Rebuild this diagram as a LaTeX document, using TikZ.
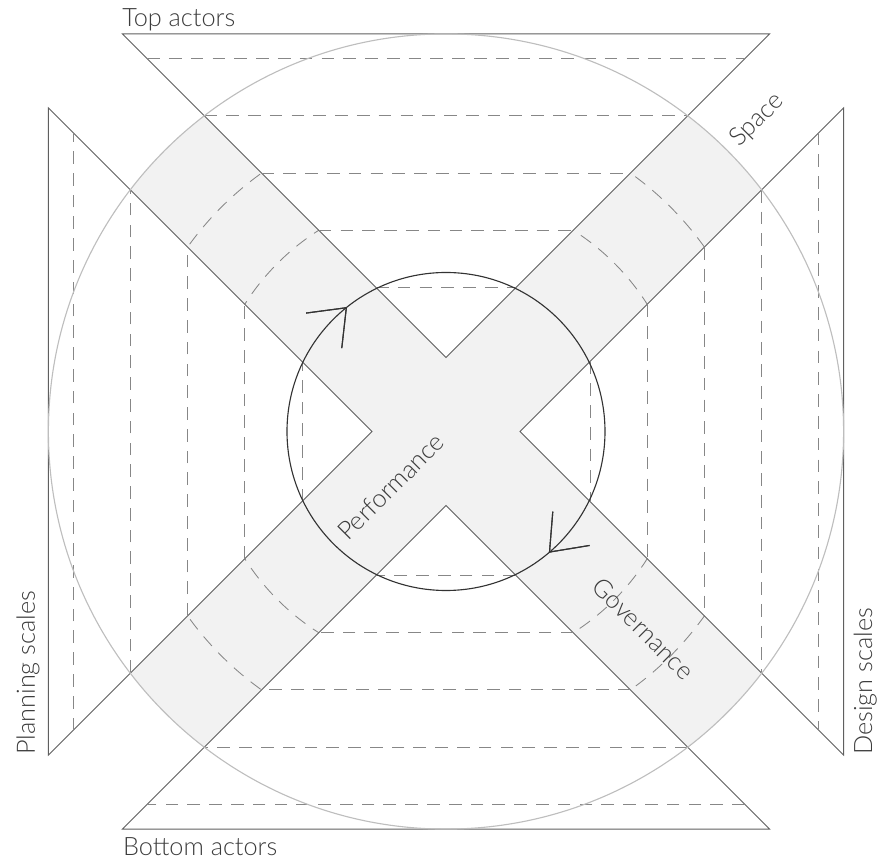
\documentclass[tikz,border=0pt]{standalone}
\usepackage{fontspec}
\IfFontExistsTF{Lato Light}{\setmainfont{Lato Light}}{\setmainfont{Lato}}
\usetikzlibrary{arrows.meta, decorations.markings}
\definecolor{bandgrey}{RGB}{242,242,242}
\definecolor{edgegrey}{RGB}{95,95,95}
\definecolor{ringgrey}{RGB}{190,190,190}
\definecolor{dashgrey}{RGB}{135,135,135}
\definecolor{inkgrey}{RGB}{60,60,60}

\begin{document}
\begin{tikzpicture}[
  edge/.style={draw=edgegrey, line width=0.6pt},
  dashline/.style={draw=dashgrey, line width=0.6pt, dash pattern=on 9pt off 6.5pt},
  outerring/.style={draw=ringgrey, line width=0.8pt},
  innerring/.style={draw=black!80, line width=0.8pt},
  barb/.style={postaction={decorate}, decoration={markings,
      mark=at position #1 with {\pgftransformrotate{7}\arrowreversed{Straight Barb[length=8mm, width=12.5mm]}}}},
  tag/.style={font=\fontsize{18}{20}\selectfont, text=inkgrey, inner sep=0pt}
]
  \def\notch{1.85}
  \def\outerR{9.94}
  \def\innerR{3.975}
  \useasboundingbox (-11.15,-10.7875) rectangle (10.875,10.7875);

  \begin{scope}
    \clip (0,\notch) -- (12,12+\notch) -- (12+\notch,12) -- (\notch,0) -- (12+\notch,-12) -- (12,-12-\notch)
      -- (0,-\notch) -- (-12,-12-\notch) -- (-12-\notch,-12) -- (-\notch,0) -- (-12-\notch,12) -- (-12,12+\notch) -- cycle;
    \fill[bandgrey] (0,0) circle (\outerR);
    \foreach \h in {5.03,6.46} {
      \pgfmathsetmacro\arcR{sqrt((\h-\notch)^2+\h^2)}
      \draw[dashline] (0,0) circle (\arcR);
    }
  \end{scope}

  \foreach \ang in {0,90,180,270} {
    \begin{scope}[rotate=\ang]
      \draw[edge] (0,\notch) -- ({\notch-\outerR},\outerR) -- ({\outerR-\notch},\outerR) -- cycle;
      \foreach \h in {3.6,5.03,6.46,7.89,9.32}
        \draw[dashline] ({\notch-\h},\h) -- ({\h-\notch},\h);
    \end{scope}
  }

  \draw[outerring] (0,0) circle (\outerR);
  \draw[innerring, barb=0.357, barb=0.862] (0,0) circle (\innerR);

  \node[tag, anchor=base west] (top) at (-8.1,10.12) {Top actors};
  \node[tag, anchor=base west] (bottom) at (-8.08,-10.59) {Bottom actors};
  \node[tag, anchor=base west, rotate=90] (planning) at (-10.275,-8.09) {Planning scales};
  \node[tag, anchor=base west, rotate=90] (design) at (10.65,-8.09) {Design scales};
  \node[tag, rotate=45] (space) at (45:11.0) {Space};
  \node[tag, rotate=45] (performance) at (225:1.95) {Performance};
  \node[tag, rotate=-45] (governance) at (-45:6.97) {Governance};
\end{tikzpicture}
\end{document}
